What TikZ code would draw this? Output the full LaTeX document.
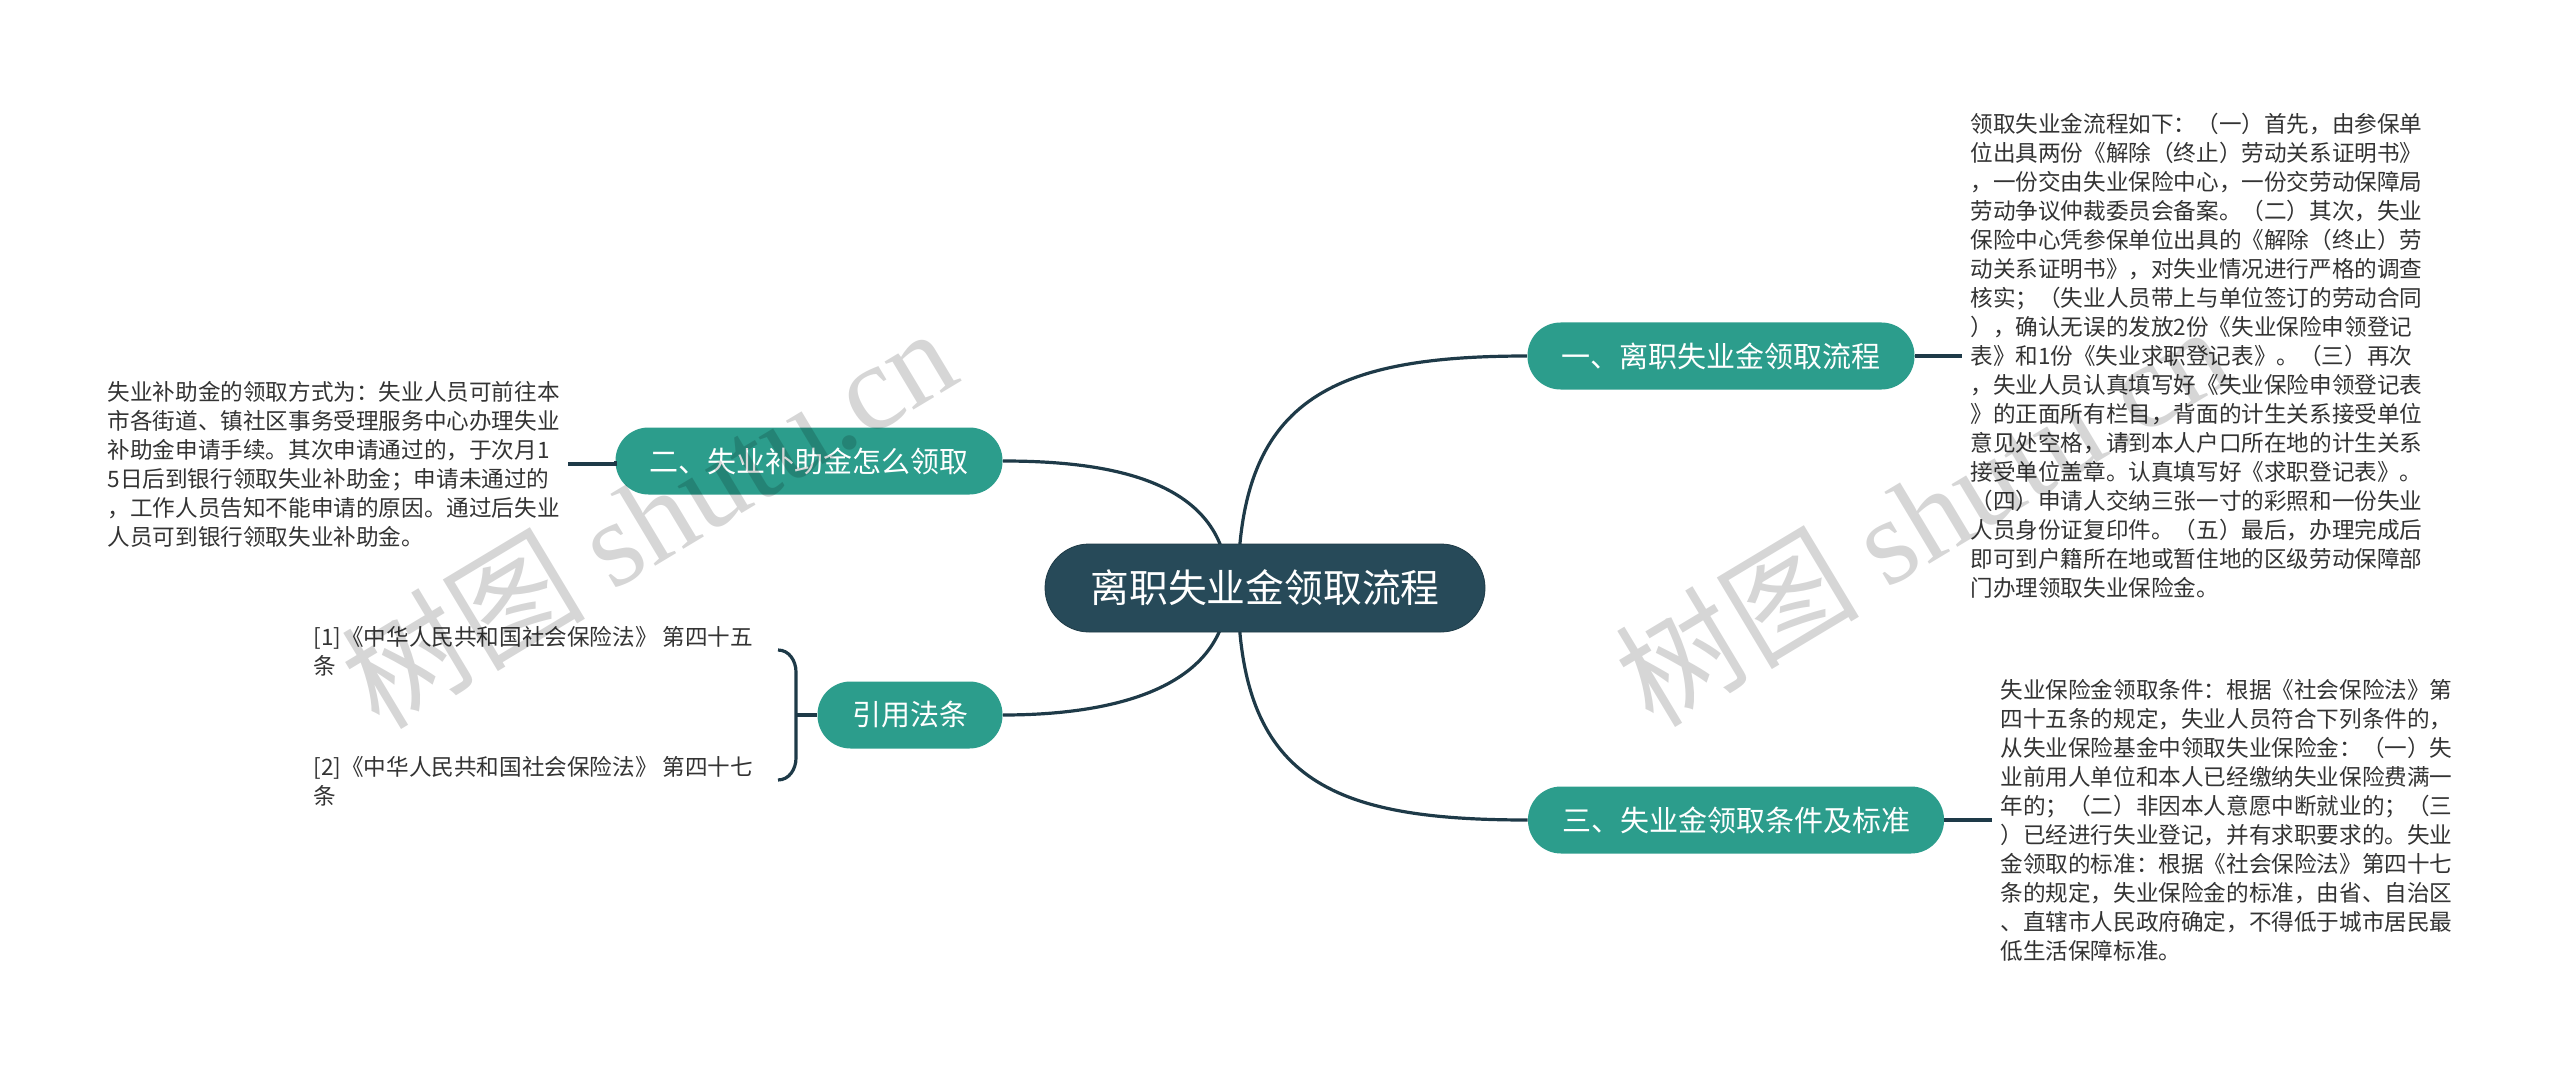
\documentclass[tikz,border=0pt]{standalone}
\usepackage{fontspec}
\setmainfont{Noto Sans CJK SC}
\newfontfamily\wmfont{Liberation Serif}
\usetikzlibrary{positioning}
\usetikzlibrary{backgrounds}
\definecolor{rootbg}{RGB}{39,74,89}
\definecolor{topicbg}{RGB}{44,157,140}
\definecolor{linkcol}{RGB}{30,58,72}
\definecolor{textcol}{RGB}{51,51,51}

\begin{document}
\begin{tikzpicture}[x=0.5pt, y=-0.5pt,
    root/.style={fill=rootbg, draw=rootbg!80!black, text=white, rounded corners=22pt,
        minimum width=220pt, minimum height=44pt, font=\fontsize{19.4}{22}\selectfont},
    topic/.style={fill=topicbg, text=white, rounded corners=16.5pt, minimum height=33.5pt,
        inner xsep=17pt, font=\fontsize{14.5}{17}\selectfont},
    note/.style={text=textcol, align=left, inner xsep=4pt, inner ysep=0pt,
        font=\fontsize{11.3}{14.5}\selectfont},
    link/.style={draw=linkcol, line width=1.6pt},
    watermark/.style={rotate=31, text=black, opacity=0.16, font=\fontsize{61}{61}\selectfont}]
    \useasboundingbox (0,0) rectangle (2560,1075);

    \node[root] (root) at (1265,588) {离职失业金领取流程};
    \node[topic] (sec1) at (1721,356) {一、离职失业金领取流程};
    \node[topic] (sec2) at (809,461) {二、失业补助金怎么领取};
    \node[topic] (sec3) at (1736,820) {三、失业金领取条件及标准};
    \node[topic, inner xsep=0pt, minimum width=92.5pt] (cite) at (910,715) {引用法条};

    \node[note, anchor=west] (note1) at (1962,356) {领取失业金流程如下：（一）首先，由参保单\\
        位出具两份《解除（终止）劳动关系证明书》\\
        ，一份交由失业保险中心，一份交劳动保障局\\
        劳动争议仲裁委员会备案。（二）其次，失业\\
        保险中心凭参保单位出具的《解除（终止）劳\\
        动关系证明书》，对失业情况进行严格的调查\\
        核实；（失业人员带上与单位签订的劳动合同\\
        ），确认无误的发放2份《失业保险申领登记\\
        表》和1份《失业求职登记表》。（三）再次\\
        ，失业人员认真填写好《失业保险申领登记表\\
        》的正面所有栏目，背面的计生关系接受单位\\
        意见处空格，请到本人户口所在地的计生关系\\
        接受单位盖章。认真填写好《求职登记表》。\\
        （四）申请人交纳三张一寸的彩照和一份失业\\
        人员身份证复印件。（五）最后，办理完成后\\
        即可到户籍所在地或暂住地的区级劳动保障部\\
        门办理领取失业保险金。};
    \node[note, anchor=east] (note2) at (568,464) {失业补助金的领取方式为：失业人员可前往本\\
        市各街道、镇社区事务受理服务中心办理失业\\
        补助金申请手续。其次申请通过的，于次月1\\
        5日后到银行领取失业补助金；申请未通过的\\
        ，工作人员告知不能申请的原因。通过后失业\\
        人员可到银行领取失业补助金。};
    \node[note, anchor=west] (note3) at (1992,820) {失业保险金领取条件：根据《社会保险法》第\\
        四十五条的规定，失业人员符合下列条件的，\\
        从失业保险基金中领取失业保险金：（一）失\\
        业前用人单位和本人已经缴纳失业保险费满一\\
        年的；（二）非因本人意愿中断就业的；（三\\
        ）已经进行失业登记，并有求职要求的。失业\\
        金领取的标准：根据《社会保险法》第四十七\\
        条的规定，失业保险金的标准，由省、自治区\\
        、直辖市人民政府确定，不得低于城市居民最\\
        低生活保障标准。};
    \node[note, anchor=west] (law1) at (305,651) {[1]《中华人民共和国社会保险法》 第四十五\\条};
    \node[note, anchor=west] (law2) at (305,781) {[2]《中华人民共和国社会保险法》 第四十七\\条};

    \coordinate (hubL) at (1228,588);
    \coordinate (hubR) at (1238,588);
    \coordinate (brace) at (796,715);
    \coordinate (end1) at (778,650);
    \coordinate (end2) at (778,780);

    \begin{scope}[on background layer]
        \draw[link] (hubR) .. controls (1238,400) and (1330,356) .. (sec1.west);
        \draw[link] (hubL) .. controls (1228,480) and (1110,461) .. (sec2.east);
        \draw[link] (hubL) .. controls (1228,690) and (1110,715) .. (cite.east);
        \draw[link] (hubR) .. controls (1238,780) and (1330,820) .. (sec3.west);
    \end{scope}

    \draw[link] (sec1.east) -- (note1.west);
    \draw[link] (sec2.west) -- (note2.east -| sec2.west) -- (note2.east);
    \draw[link] (sec3.east) -- (note3.west);
    \draw[link] (cite.west) -- (brace);
    \draw[link] (end1) to[out=0, in=90] (brace |- 0,672) -- (brace |- 0,758) to[out=-90, in=0] (end2);

    \node[watermark] (mark1) at (648,516) {树图 {\wmfont shutu.cn}};
    \node[watermark] (mark2) at (1922,514) {树图 {\wmfont shutu.cn}};
\end{tikzpicture}
\end{document}
